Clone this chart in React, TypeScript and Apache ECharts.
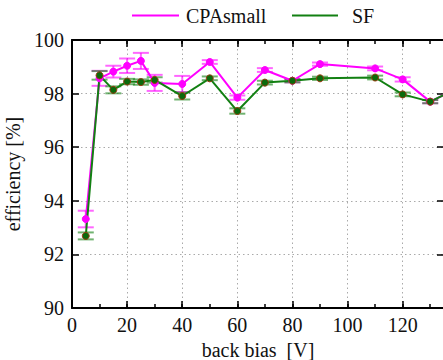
import React, { useEffect, useRef } from "react";
import * as echarts from "echarts";

// Back bias voltage [V] of each measurement
const biasV = [5, 10, 15, 20, 25, 30, 40, 50, 60, 70, 80, 90, 110, 120, 130, 140];

// Efficiency [%] and its uncertainty, CPAsmall
const cpaSmallEff = [93.32, 98.57, 98.82, 99.04, 99.22, 98.4, 98.36, 99.18, 97.85, 98.88, 98.48, 99.1, 98.94, 98.53, 97.7, 98.2];
const cpaSmallErr = [0.31, 0.28, 0.22, 0.27, 0.3, 0.3, 0.3, 0.07, 0.08, 0.07, 0.06, 0.06, 0.07, 0.08, 0.06, 0.06];

// Efficiency [%] and its uncertainty, SF
const sfEff = [92.69, 98.68, 98.14, 98.45, 98.43, 98.51, 97.91, 98.57, 97.35, 98.41, 98.48, 98.57, 98.6, 97.97, 97.7, 98.2];
const sfErr = [0.13, 0.16, 0.13, 0.1, 0.1, 0.1, 0.13, 0.07, 0.1, 0.07, 0.06, 0.06, 0.07, 0.07, 0.06, 0.06];

const X_MIN = 0;
const X_MAX = 135;
const Y_MIN = 90;
const Y_MAX = 100;

const FONT = "'Liberation Serif', 'DejaVu Serif', serif";
const TEXT = "#111";
const MAGENTA = "#ff00ff";
const GREEN = "#128012";

const GRID = { left: 72, top: 40, width: 372, height: 268, containLabel: false, outerBoundsMode: "none" };

const gridLine = { show: true, lineStyle: { color: "#aaa", width: 1, type: [1.5, 3] as number[] } };
const axisLine = { show: true, onZero: false, lineStyle: { color: "#000", width: 2 } };

function errorBars(vals: number[], errs: number[], stroke: string) {
  return {
    type: "custom",
    xAxisIndex: 0,
    yAxisIndex: 0,
    clip: true,
    z: 1,
    data: biasV.map((x, i) => [x, vals[i] - errs[i], vals[i] + errs[i]]),
    encode: { x: 0, y: [1, 2] },
    renderItem: (_params: any, api: any) => {
      const x = api.value(0);
      const lo = api.coord([x, api.value(1)]);
      const hi = api.coord([x, api.value(2)]);
      const hw = 8;
      const style = { stroke, lineWidth: 2, fill: "none" };
      return {
        type: "group",
        children: [
          { type: "line", shape: { x1: lo[0], y1: lo[1], x2: hi[0], y2: hi[1] }, style },
          { type: "line", shape: { x1: lo[0] - hw, y1: lo[1], x2: lo[0] + hw, y2: lo[1] }, style },
          { type: "line", shape: { x1: hi[0] - hw, y1: hi[1], x2: hi[0] + hw, y2: hi[1] }, style },
        ],
      };
    },
  };
}

function lineSeries(name: string, vals: number[], color: string, dot: string, border: string) {
  return {
    name,
    type: "line",
    xAxisIndex: 0,
    yAxisIndex: 0,
    clip: true,
    z: 3,
    data: biasV.map((x, i) => [x, vals[i]]),
    symbol: "circle",
    symbolSize: 7,
    lineStyle: { color, width: 2 },
    itemStyle: { color: dot, borderColor: border, borderWidth: 1 },
  };
}

export default function App() {
  const ref = useRef<HTMLDivElement>(null);

  useEffect(() => {
    if (!ref.current) return;
    const chart = echarts.init(ref.current, null, { renderer: "svg" });

    const majorX = (position: string, labels: boolean) => ({
      type: "value",
      gridIndex: 0,
      position,
      min: X_MIN,
      max: X_MAX,
      interval: 20,
      axisLine,
      axisTick: { show: true, inside: true, length: 7, lineStyle: { color: "#000", width: 1.5 } },
      axisLabel: labels
        ? {
            show: true,
            margin: 7,
            color: TEXT,
            fontFamily: FONT,
            fontSize: 20,
            showMaxLabel: false,
            formatter: (v: number) => (v % 20 === 0 ? String(v) : ""),
          }
        : { show: false },
      splitLine: labels ? gridLine : { show: false },
      ...(labels
        ? {
            name: "back bias  [V]",
            nameLocation: "middle",
            nameGap: 30,
            nameTextStyle: { color: TEXT, fontFamily: FONT, fontSize: 20 },
          }
        : {}),
    });

    const minorX = (position: string) => ({
      type: "value",
      gridIndex: 1,
      position,
      min: X_MIN,
      max: X_MAX,
      interval: 10,
      axisLine: { show: false },
      axisTick: { show: true, inside: true, length: 4, lineStyle: { color: "#000", width: 1.5 } },
      axisLabel: { show: false },
      splitLine: { show: false },
    });

    const majorY = (position: string, labels: boolean) => ({
      type: "value",
      gridIndex: 0,
      position,
      min: Y_MIN,
      max: Y_MAX,
      interval: 2,
      axisLine,
      axisTick: { show: true, inside: true, length: 7, lineStyle: { color: "#000", width: 1.5 } },
      axisLabel: labels
        ? { show: true, margin: 8, color: TEXT, fontFamily: FONT, fontSize: 20 }
        : { show: false },
      splitLine: labels ? gridLine : { show: false },
      ...(labels
        ? {
            name: "efficiency [%]",
            nameLocation: "middle",
            nameGap: 44,
            nameRotate: 90,
            nameTextStyle: { color: TEXT, fontFamily: FONT, fontSize: 20 },
          }
        : {}),
    });

    chart.setOption({
      animation: false,
      backgroundColor: "#fff",
      grid: [{ ...GRID }, { ...GRID }],
      xAxis: [majorX("bottom", true), majorX("top", false), minorX("bottom"), minorX("top")],
      yAxis: [
        majorY("left", true),
        majorY("right", false),
        { type: "value", gridIndex: 1, min: Y_MIN, max: Y_MAX, show: false },
      ],
      series: [
        errorBars(cpaSmallEff, cpaSmallErr, "rgba(255,0,255,0.6)"),
        lineSeries("CPAsmall", cpaSmallEff, MAGENTA, MAGENTA, MAGENTA),
        errorBars(sfEff, sfErr, "rgba(18,128,18,0.6)"),
        lineSeries("SF", sfEff, GREEN, "#0b6a0b", "#9a3a10"),
      ],
      graphic: [
        { type: "line", shape: { x1: 132, y1: 15.5, x2: 179, y2: 15.5 }, style: { stroke: MAGENTA, lineWidth: 2 } },
        {
          type: "text",
          x: 186,
          y: 15.5,
          style: { text: "CPAsmall", fill: TEXT, font: `20px ${FONT}`, verticalAlign: "middle" },
        },
        { type: "line", shape: { x1: 292, y1: 15.5, x2: 338, y2: 15.5 }, style: { stroke: GREEN, lineWidth: 2 } },
        {
          type: "text",
          x: 352,
          y: 15.5,
          style: { text: "SF", fill: TEXT, font: `20px ${FONT}`, verticalAlign: "middle" },
        },
      ],
    });

    return () => chart.dispose();
  }, []);

  return (
    <div
      ref={ref}
      style={{ position: "fixed", left: 0, top: 0, width: 443, height: 360 }}
    />
  );
}
